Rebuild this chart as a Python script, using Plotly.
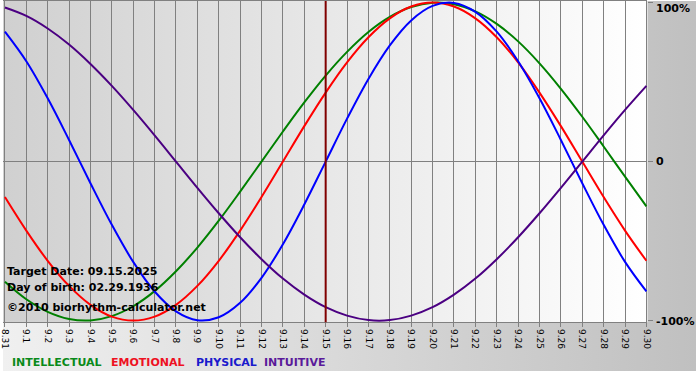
import plotly.graph_objects as go

# ---- data ----
day_labels = ["8.31", "9.1", "9.2", "9.3", "9.4", "9.5", "9.6", "9.7", "9.8", "9.9",
              "9.10", "9.11", "9.12", "9.13", "9.14", "9.15", "9.16", "9.17", "9.18",
              "9.19", "9.20", "9.21", "9.22", "9.23", "9.24", "9.25", "9.26", "9.27",
              "9.28", "9.29", "9.30"]
target_label = "9.15"

physical = [0.817, 0.631, 0.398, 0.136, -0.136, -0.398, -0.631, -0.817, -0.942, -0.998,
            -0.979, -0.888, -0.731, -0.520, -0.270, 0.000, 0.270, 0.520, 0.731, 0.888,
            0.979, 0.998, 0.942, 0.817, 0.631, 0.398, 0.136, -0.136, -0.398, -0.631, -0.817]
emotional = [-0.223, -0.434, -0.624, -0.782, -0.901, -0.975, -1.000, -0.975, -0.901, -0.782,
             -0.624, -0.434, -0.223, 0.000, 0.223, 0.434, 0.624, 0.782, 0.901, 0.975,
             1.000, 0.975, 0.901, 0.782, 0.624, 0.434, 0.223, 0.000, -0.223, -0.434, -0.624]
intellectual = [-0.756, -0.866, -0.945, -0.990, -0.999, -0.972, -0.910, -0.815, -0.690, -0.541,
                -0.372, -0.189, 0.000, 0.189, 0.372, 0.541, 0.690, 0.815, 0.910, 0.972,
                0.999, 0.990, 0.945, 0.866, 0.756, 0.618, 0.458, 0.282, 0.095, -0.095, -0.282]
intuitive = [0.969, 0.916, 0.837, 0.736, 0.614, 0.476, 0.325, 0.165, 0.000, -0.165,
             -0.325, -0.476, -0.614, -0.736, -0.837, -0.916, -0.969, -0.997, -0.997, -0.969,
             -0.916, -0.837, -0.736, -0.614, -0.476, -0.325, -0.165, 0.000, 0.165, 0.325, 0.476]

series_names = ["INTELLECTUAL", "EMOTIONAL", "PHYSICAL", "INTUITIVE"]
series_colors = ["#008000", "#ff0000", "#0000ff", "#4b0082"]
legend_colors = ["#0a8a1a", "#ee1122", "#1a1acc", "#5a1a9a"]
right_labels = ["100%", "0", "-100%"]
right_values = [1, 0, -1]
info_lines = ["Target Date: 09.15.2025", "Day of birth: 02.29.1936",
              "\u00a92010 biorhythm-calculator.net"]

W, H = 700, 380
PLOT_R = 651
PLOT_B = 322
FONT = "Verdana, DejaVu Sans, sans-serif"

x_idx = list(range(len(day_labels)))
fig = go.Figure()

# background (pixel-space subplot)
fig.add_trace(go.Scatter(x=[0, W, W, 0, 0], y=[0, 0, 371, 371, 0], fill="toself",
                         mode="lines", line=dict(width=0),
                         fillgradient=dict(type="horizontal",
                                           colorscale=[[0, "#f0f0f0"], [1, "#c0c0c0"]]),
                         hoverinfo="skip", showlegend=False, xaxis="x", yaxis="y"))
fig.add_trace(go.Scatter(x=[0, PLOT_R, PLOT_R, 0, 0], y=[0, 0, PLOT_B, PLOT_B, 0], fill="toself",
                         mode="lines", line=dict(width=0),
                         fillgradient=dict(type="horizontal",
                                           colorscale=[[0, "#d0d0d0"], [1, "#ffffff"]]),
                         hoverinfo="skip", showlegend=False, xaxis="x", yaxis="y"))

# curves
for name, vals, col in zip(series_names, [intellectual, emotional, physical, intuitive], series_colors):
    fig.add_trace(go.Scatter(x=x_idx, y=vals, mode="lines", name=name,
                             line=dict(color=col, width=2, shape="spline", smoothing=1),
                             showlegend=False, xaxis="x2", yaxis="y2"))

# target date marker
fig.add_shape(type="line", xref="x2", yref="y2 domain",
              x0=day_labels.index(target_label), x1=day_labels.index(target_label),
              y0=0, y1=1, line=dict(color="#800000", width=2), layer="above")

annotations = []
for lab, v in zip(right_labels, right_values):
    annotations.append(dict(x=658, y=v, xref="x", yref="y2", text=lab, showarrow=False,
                            xanchor="left", yanchor="middle",
                            yshift=(-6 if v == 1 else (0 if v == 0 else -1)),
                            font=dict(family=FONT, size=11, color="#000000", weight="bold")))
for i, t in enumerate(info_lines):
    annotations.append(dict(x=2, y=[271, 287, 307][i], xref="x", yref="y", text=t,
                            showarrow=False, xanchor="left", yanchor="middle",
                            font=dict(family=FONT, size=11, color="#000000", weight="bold")))
leg_x = [7, 107, 193, 262]
for nm, c, lx in zip(series_names, legend_colors, leg_x):
    annotations.append(dict(x=lx, y=362, xref="x", yref="y", text=nm, showarrow=False,
                            xanchor="left", yanchor="middle",
                            font=dict(family=FONT, size=11, color=c, weight="bold")))

fig.update_layout(
    width=W, height=H,
    margin=dict(l=0, r=0, t=0, b=0),
    paper_bgcolor="#ffffff",
    plot_bgcolor="rgba(0,0,0,0)",
    showlegend=False,
    xaxis=dict(domain=[0, 1], range=[0, W], visible=False, fixedrange=True),
    yaxis=dict(domain=[0, 1], range=[H, 0], visible=False, fixedrange=True),
    xaxis2=dict(domain=[0, PLOT_R / W], range=[-0.09, 30.05], anchor="y2",
                tickmode="array", tickvals=x_idx, ticktext=day_labels, tickangle=90,
                tickfont=dict(family=FONT, size=9, color="#000000"),
                ticklabeloverflow="allow",
                ticks="outside", ticklen=4, tickcolor="#808080",
                showgrid=True, gridcolor="#808080", gridwidth=1,
                showline=True, linecolor="#808080", linewidth=1, mirror=True,
                zeroline=False),
    yaxis2=dict(domain=[(H - PLOT_B) / H, 1], range=[-1.01, 1.01], anchor="x2", side="right",
                tickmode="array", tickvals=right_values, ticktext=["", "", ""],
                ticks="outside", ticklen=5, tickcolor="#808080",
                showgrid=False, zeroline=True, zerolinecolor="#808080", zerolinewidth=1),
    annotations=annotations,
    font=dict(family=FONT),
)

fig.write_html("out.html", config={"displayModeBar": False},
               post_script="document.body.style.margin='0';document.body.style.padding='0';")
